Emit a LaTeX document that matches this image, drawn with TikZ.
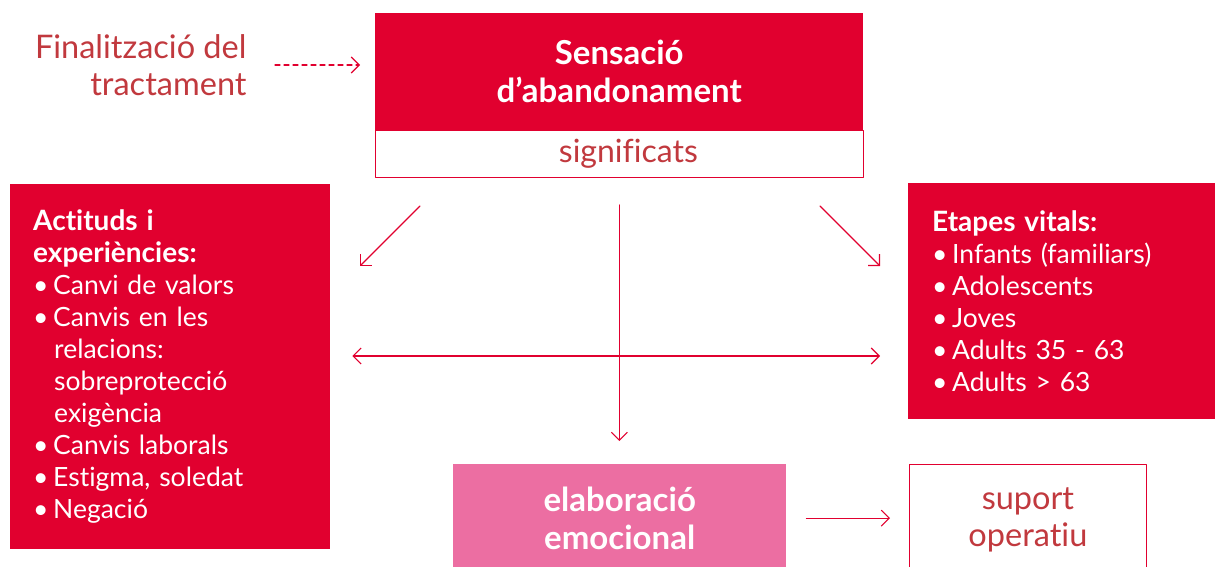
\documentclass[tikz,border=0pt]{standalone}
\usepackage{fontspec}
\setmainfont{Lato}[Ligatures={NoCommon,NoRequired,NoContextual}]
\usetikzlibrary{arrows.meta}
\definecolor{rojo}{HTML}{E1002F}
\definecolor{rosa}{HTML}{EC6EA2}
\definecolor{granate}{HTML}{C1393E}
\newcommand{\cuerpo}{\fontsize{26.5}{32}\selectfont}
\newcommand{\titol}{\fontsize{33}{38}\selectfont}
\newcommand{\punt}{\makebox[20pt][l]{\textbullet}}
\newcommand{\sagnat}{\hspace*{21pt}}
\newcommand{\capsa}[1]{{\fontsize{28}{32}\selectfont\bfseries #1}}
\begin{document}
\begin{tikzpicture}[x=1pt,y=-1pt,line cap=round,line join=round,
>={Straight Barb[length=8pt,width=16pt]},
caja/.style={rectangle,inner sep=0pt,anchor=north west},
flecha/.style={draw=rojo,line width=1.1pt,->}]
\clip (0,0) rectangle (1215,567);
% caixa central
\node[caja,fill=rojo,text=white,minimum width=488pt,minimum height=117pt,align=center,font=\titol\bfseries] (sens) at (375,13) {Sensació\\d’abandonament};
\node[caja,draw=rojo,line width=0.8pt,fill=white,text=granate,minimum width=488pt,minimum height=47pt,font=\fontsize{32}{38}\selectfont] (signif) at (375,130) {\hspace*{18pt}significats};
\node[anchor=east,align=right,text=granate,font=\fontsize{32.5}{37}\selectfont] (final) at (250,65) {Finalització del\\tractament};
% caixes laterals
\node[caja,fill=rojo,text=white,minimum width=320pt,minimum height=365pt,text width=274pt,inner xsep=23pt,align=left,font=\cuerpo] (actituds) at (10,184) {\capsa{Actituds i}\\\capsa{experiències:}\\\punt Canvi de valors\\\punt Canvis en les\\\sagnat relacions:\\\sagnat sobreprotecció\\\sagnat exigència\\\punt Canvis laborals\\\punt Estigma, soledat\\\punt Negació};
\node[caja,fill=rojo,text=white,minimum width=307pt,minimum height=236pt,text width=259pt,inner xsep=24pt,align=left,font=\cuerpo] (etapes) at (908,183) {\capsa{Etapes vitals:}\\\punt Infants (familiars)\\\punt Adolescents\\\punt Joves\\\punt Adults 35 - 63\\\punt Adults > 63};
% caixes inferiors
\node[caja,fill=rosa,text=white,minimum width=333pt,minimum height=108pt,align=center,font=\titol\bfseries] (elab) at (453,464) {elaboració\\emocional};
\node[caja,draw=rojo,line width=0.8pt,text=granate,minimum width=237pt,minimum height=110pt,align=center,font=\fontsize{32.5}{37}\selectfont] (suport) at (909,464) {suport\\operatiu};
% fletxes
\coordinate (cruce) at (619,356);
\coordinate (diagA) at (420,206);
\coordinate (diagB) at (360,266);
\coordinate (diagC) at (820,206);
\coordinate (diagD) at (880,266);
\draw[flecha,dash pattern=on 5pt off 4pt] ([xshift=25pt]final.east) -- ([xshift=-15pt]final.east -| sens.west);
\draw[flecha] (diagA) -- (diagB);
\draw[flecha] (diagC) -- (diagD);
\draw[flecha,shorten <=27pt,shorten >=23pt] (signif.south) -- (signif.south |- elab.north);
\draw[flecha,<->,shorten <=22pt,shorten >=28pt] (cruce -| actituds.east) -- (cruce -| etapes.west);
\draw[flecha,shorten <=20pt,shorten >=19pt] (elab.east) -- (elab.east -| suport.west);
\end{tikzpicture}
\end{document}
